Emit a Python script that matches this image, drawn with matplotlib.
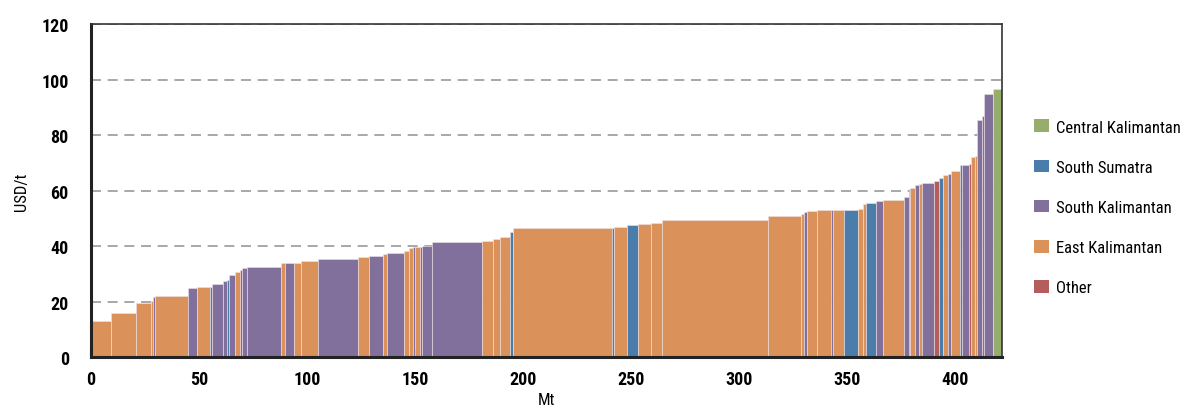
import numpy as np
import matplotlib
matplotlib.use("Agg")
import matplotlib.pyplot as plt
from matplotlib import font_manager as fm
from matplotlib.patches import Patch

# Mine supply: volume (Mt) and cash cost (USD/t), sorted by cost
VOLUMES = [9.3, 11.5, 7.0, 1.0, 0.9, 15.0, 4.2, 6.2, 0.9, 5.0,
           1.8, 0.9, 3.1, 2.1, 1.0, 2.1, 16.1, 1.8, 3.9, 3.3,
           7.8, 18.7, 5.3, 6.1, 2.1, 7.9, 2.3, 1.9, 0.9, 2.2,
           0.8, 4.9, 23.0, 5.3, 3.1, 4.6, 1.2, 46.1, 0.9, 5.9,
           5.1, 6.2, 5.0, 49.2, 15.3, 1.3, 1.1, 4.9, 6.2, 1.1,
           5.1, 6.6, 2.4, 1.0, 4.8, 3.1, 9.9, 2.1, 0.8, 2.2,
           2.0, 1.1, 5.8, 2.0, 2.0, 2.2, 1.7, 4.0, 1.1, 3.2,
           0.9, 1.9, 0.8, 2.3, 0.9, 4.0, 4.4]
COSTS = [12.9, 15.9, 19.6, 20.2, 21.8, 22.1, 24.8, 25.3, 25.3, 26.4,
         27.4, 27.7, 29.7, 30.6, 31.3, 32.2, 32.6, 33.7, 33.8, 33.8,
         34.5, 35.3, 36.2, 36.5, 37.3, 37.5, 38.3, 39.3, 39.7, 39.8,
         39.8, 40.0, 41.3, 41.8, 42.5, 43.4, 44.9, 46.4, 46.4, 47.0,
         47.7, 48.1, 48.4, 49.3, 50.9, 51.6, 52.2, 52.6, 52.9, 52.9,
         53.0, 53.0, 53.4, 55.1, 55.6, 56.1, 56.7, 57.8, 60.4, 60.8,
         61.9, 62.2, 62.7, 63.5, 64.6, 65.6, 66.0, 66.9, 69.3, 69.3,
         69.7, 71.9, 72.4, 85.3, 86.9, 94.9, 96.4]
REGIONS = ["EK", "EK", "EK", "EK", "SK", "EK", "SK", "EK", "SS", "SK",
           "SK", "SS", "SK", "EK", "OT", "SK", "SK", "EK", "SK", "EK",
           "EK", "SK", "EK", "SK", "EK", "SK", "EK", "EK", "SK", "EK",
           "OT", "SK", "SK", "EK", "EK", "EK", "SS", "EK", "SS", "EK",
           "SS", "EK", "EK", "EK", "EK", "EK", "SK", "EK", "EK", "SK",
           "EK", "SS", "EK", "EK", "SS", "SK", "EK", "SK", "SK", "EK",
           "SK", "EK", "SK", "OT", "SS", "EK", "SK", "EK", "SS", "SK",
           "OT", "EK", "EK", "SK", "SK", "SK", "CK"]

REGION_NAMES = {
    "CK": "Central Kalimantan",
    "SS": "South Sumatra",
    "SK": "South Kalimantan",
    "EK": "East Kalimantan",
    "OT": "Other",
}
REGION_COLORS = {
    "CK": "#97AD6C",
    "SS": "#4A7DAA",
    "SK": "#80709B",
    "EK": "#DA925A",
    "OT": "#B55C5C",
}


def pick_narrow_font():
    """Return (family, stretch, size scale) for the narrowest sans available."""
    fonts = fm.fontManager.ttflist
    names = {f.name for f in fonts}
    for fam in ["Liberation Sans Narrow", "Roboto Condensed",
                "Open Sans Condensed", "Noto Sans Condensed",
                "DejaVu Sans Condensed"]:
        if fam in names:
            return fam, "normal", 1.0
    for fam in ["DejaVu Sans", "Noto Sans", "Open Sans", "Roboto"]:
        if any(f.name == fam and f.stretch in ("condensed", "semi-condensed",
                                               "extra-condensed")
               for f in fonts):
            return fam, "condensed", 1.0
    return "Liberation Sans", "normal", 0.85


FAMILY, STRETCH, SCALE = pick_narrow_font()
plt.rcParams['font.family'] = [FAMILY, 'DejaVu Sans']
plt.rcParams['font.stretch'] = STRETCH

widths = np.array(VOLUMES)
starts = np.concatenate([[0], np.cumsum(widths)[:-1]])
colors = [REGION_COLORS[r] for r in REGIONS]

fig = plt.figure(figsize=(11.84, 4.06), dpi=100)
ax = fig.add_axes([0.0769, 0.1182, 0.7694, 0.8202])

ax.set_axisbelow(True)
ax.yaxis.grid(True, linestyle=(0, (6, 4)), color="#999999", linewidth=1.2)
ax.bar(starts, COSTS, width=widths, align="edge", color=colors,
       edgecolor="#efe2e6", linewidth=0.4)

ax.set_xlim(0, widths.sum())
ax.set_ylim(0, 120)
ax.set_xticks(np.arange(0, 401, 50))
ax.set_yticks(np.arange(0, 121, 20))
ax.tick_params(axis="x", direction="in", length=5, width=1.5, colors="#222222",
               labelsize=13 * SCALE, pad=9)
ax.tick_params(axis="y", length=0, labelsize=13 * SCALE, pad=16, colors="#222222")
for lab in ax.get_xticklabels() + ax.get_yticklabels():
    lab.set_color("black")
    lab.set_fontweight("bold")
for side in ["left", "bottom"]:
    ax.spines[side].set_linewidth(2.2)
    ax.spines[side].set_color("#222222")
for side in ["top", "right"]:
    ax.spines[side].set_linewidth(1.2)
    ax.spines[side].set_color("#333333")

ax.set_xlabel("Mt", fontsize=12 * SCALE, labelpad=3)
ax.set_ylabel("USD/t", fontsize=12 * SCALE, labelpad=9)

order = ["CK", "SS", "SK", "EK", "OT"]
handles = [Patch(facecolor=REGION_COLORS[k], label=REGION_NAMES[k]) for k in order]
fig.legend(handles=handles, loc="upper left", bbox_to_anchor=(0.868, 0.72),
           frameon=False, fontsize=12 * SCALE, handlelength=0.85, handleheight=0.8,
           handletextpad=0.45, labelspacing=1.5, borderaxespad=0)

fig.savefig("out.png", dpi=100)
